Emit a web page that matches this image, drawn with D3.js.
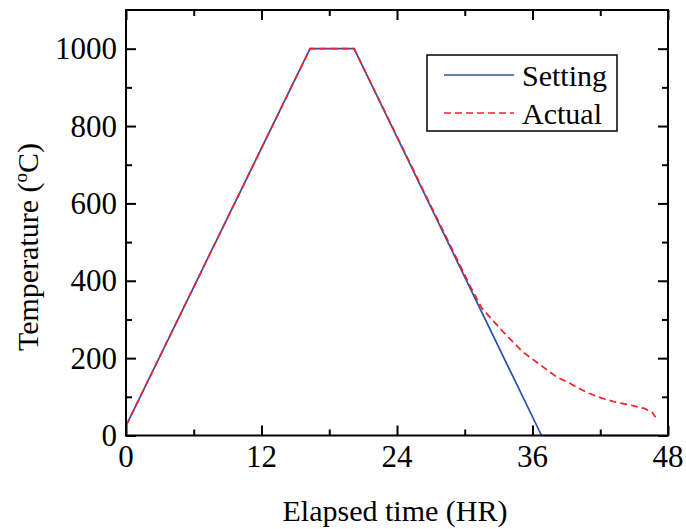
<!DOCTYPE html>
<html>
<head>
<meta charset="utf-8">
<script src="https://cdn.jsdelivr.net/npm/d3@7"></script>
<style>
  body { margin: 0; background: #fff; }
  text { font-family: "Liberation Serif", "Times New Roman", serif; fill: #000; }
</style>
</head>
<body>
<div id="chart"></div>
<script>
// 读图得到的数据
const settingTime = [0, 16.3, 20.2, 36.8, 47.3];
const settingTemp = [25, 1000, 1000, 0, 0];

const actualTime = [0, 16.3, 20.2, 30.5, 31.5, 32.5, 33.4, 35.1, 36.9, 38.1, 39.3, 40.1, 41.0, 42.2, 43.4, 44.6, 45.9, 46.6, 46.9];
const actualTemp = [25, 1000, 1000, 385, 330, 297, 268, 217, 178, 152, 135, 122, 109, 96, 86, 79, 70, 60, 47];

const xMajor = [0, 12, 24, 36, 48];
const xMinor = [6, 18, 30, 42];
const yMajor = [0, 200, 400, 600, 800, 1000];
const yMinor = [100, 300, 500, 700, 900];

const seriesNames = ["Setting", "Actual"];

const W = 686, H = 529;
const plotL = 126, plotR = 668, plotT = 10, plotB = 435.5;

const svg = d3.select("#chart")
	.append("svg")
	.attr("width", W)
	.attr("height", H);

const x = d3.scaleLinear().domain([0, 48]).range([plotL, plotR]);
const y = d3.scaleLinear().domain([0, 1100]).range([plotB, plotT]);

const line = d3.line()
	.x(d => x(d[0]))
	.y(d => y(d[1]));

const setting = settingTime.map((t, i) => [t, settingTemp[i]]);
const actual = actualTime.map((t, i) => [t, actualTemp[i]]);

svg.append("path")
	.attr("d", line(setting))
	.attr("fill", "none")
	.attr("stroke", "#2c4fae")
	.attr("stroke-width", 1.7);

svg.append("path")
	.attr("d", line(actual))
	.attr("fill", "none")
	.attr("stroke", "#f4212b")
	.attr("stroke-width", 1.7)
	.attr("stroke-dasharray", "7,4");

/*
 * 四边都有向内的刻度，只有左边和下边有数字。
 */
function tickAxis(axis, scale, size) {
	return axis(scale).tickSize(size).tickFormat("");
}

const ax = svg.append("g").attr("class", "axes");

ax.append("g").attr("transform", `translate(0,${plotB})`)
	.call(tickAxis(d3.axisTop, x, 10).tickValues(xMajor));
ax.append("g").attr("transform", `translate(0,${plotB})`)
	.call(tickAxis(d3.axisTop, x, 6).tickValues(xMinor));
ax.append("g").attr("transform", `translate(0,${plotT})`)
	.call(tickAxis(d3.axisBottom, x, 10).tickValues(xMajor));
ax.append("g").attr("transform", `translate(0,${plotT})`)
	.call(tickAxis(d3.axisBottom, x, 6).tickValues(xMinor));
ax.append("g").attr("transform", `translate(${plotL},0)`)
	.call(tickAxis(d3.axisRight, y, 10).tickValues(yMajor));
ax.append("g").attr("transform", `translate(${plotL},0)`)
	.call(tickAxis(d3.axisRight, y, 6).tickValues(yMinor));
ax.append("g").attr("transform", `translate(${plotR},0)`)
	.call(tickAxis(d3.axisLeft, y, 10).tickValues(yMajor));
ax.append("g").attr("transform", `translate(${plotR},0)`)
	.call(tickAxis(d3.axisLeft, y, 6).tickValues(yMinor));

ax.selectAll(".domain").remove();
ax.selectAll(".tick line").attr("stroke", "#000").attr("stroke-width", 2);

svg.append("rect")
	.attr("x", plotL).attr("y", plotT)
	.attr("width", plotR - plotL).attr("height", plotB - plotT)
	.attr("fill", "none")
	.attr("stroke", "#000")
	.attr("stroke-width", 2);

// 刻度数字
svg.selectAll(".xlab")
	.data(xMajor)
	.enter().append("text")
	.attr("class", "xlab")
	.attr("x", d => x(d))
	.attr("y", plotB + 31)
	.attr("text-anchor", "middle")
	.attr("font-size", 31)
	.text(d => d);

svg.selectAll(".ylab")
	.data(yMajor)
	.enter().append("text")
	.attr("class", "ylab")
	.attr("x", plotL - 9)
	.attr("y", d => y(d))
	.attr("dy", "0.34em")
	.attr("text-anchor", "end")
	.attr("font-size", 31)
	.text(d => d);

svg.append("text")
	.attr("x", 395)
	.attr("y", 521)
	.attr("text-anchor", "middle")
	.attr("font-size", 30)
	.text("Elapsed time (HR)");

const yt = svg.append("text")
	.attr("transform", "translate(38,247) rotate(-90)")
	.attr("text-anchor", "middle")
	.attr("font-size", 30);
yt.append("tspan").text("Temperature (");
yt.append("tspan").attr("font-size", 19).attr("dy", -11).text("o");
yt.append("tspan").attr("dy", 11).text("C)");

// 图例
const lg = svg.append("g");
lg.append("rect")
	.attr("x", 427).attr("y", 55)
	.attr("width", 190).attr("height", 76)
	.attr("fill", "#fff")
	.attr("stroke", "#000")
	.attr("stroke-width", 1.5);

const legendStyle = [
	{ color: "#2c4fae", dash: null },
	{ color: "#f4212b", dash: "7,4" }
];

seriesNames.forEach((name, i) => {
	const ly = 75 + i * 38;
	lg.append("line")
		.attr("x1", 444).attr("x2", 514)
		.attr("y1", ly).attr("y2", ly)
		.attr("stroke", legendStyle[i].color)
		.attr("stroke-width", 1.7)
		.attr("stroke-dasharray", legendStyle[i].dash);
	lg.append("text")
		.attr("x", 522)
		.attr("y", ly + 11)
		.attr("font-size", 30)
		.text(name);
});
</script>
</body>
</html>
